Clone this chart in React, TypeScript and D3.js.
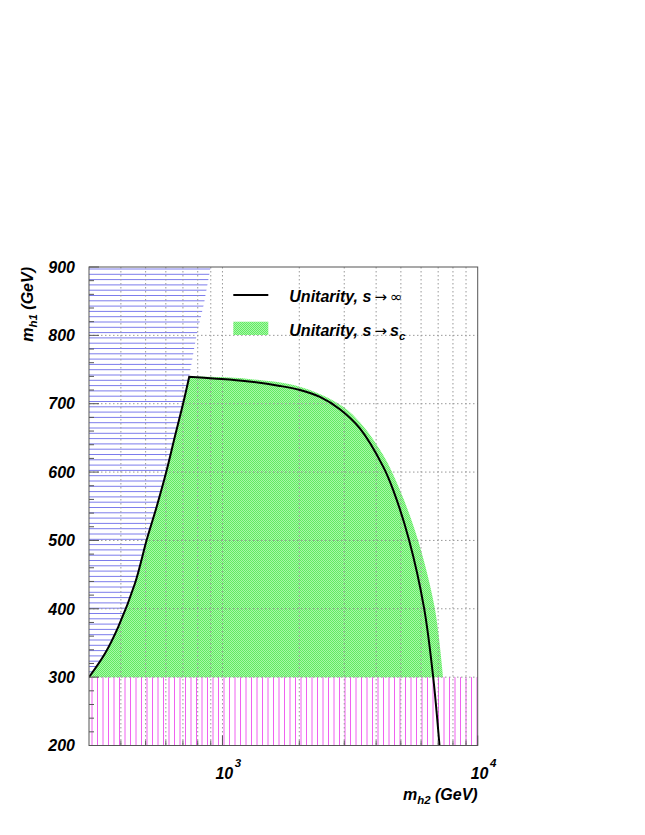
import React from "react";
import * as d3 from "d3";

// Left boundary (m_h2 ≈ m_h1)
const leftH2 = [300, 347, 391, 454, 505, 552, 605, 651, 702, 741];
const leftH1 = [300, 335, 374, 437, 501, 549, 603, 652, 701, 739.5];
// Unitarity s -> infinity (black curve, falling part)
const infH2 = [741, 920, 1244, 1679, 2011, 2408, 2883, 3454, 4262, 4663, 5380, 6165, 6688, 7083];
const infH1 = [739.5, 737, 733, 726, 720, 710, 692, 664, 608, 574, 501, 401, 301, 200];
// Unitarity s -> s_c (green region outer edge)
const scH2 = [741, 1244, 2011, 2883, 3454, 4262, 4953, 5830, 6790, 7317];
const scH1 = [740, 736.5, 725, 699, 673, 625, 574, 501, 401, 300];
// Excluded region m_h2 < m_h1 (blue), upper edge continues to 900
const blueH2 = [300, 347, 391, 454, 505, 552, 605, 651, 702, 741, 792, 850, 899];
const blueH1 = [300, 335, 374, 437, 501, 549, 603, 652, 701, 739.5, 800, 850, 900];
// Excluded band (magenta)
const magentaH1 = [200, 300];

const yTicks = [200, 300, 400, 500, 600, 700, 800, 900];
const xGrid = [400, 500, 600, 700, 800, 900, 1000, 2000, 3000, 4000, 5000, 6000, 7000, 8000, 9000];
const xMajor = [1000, 10000];
const xMajorExp = ["3", "4"];

const W = 645, H = 835;
const L = 89, R = 477.7, T = 267, B = 745.5;
const FONT = "'Liberation Sans', Arial, Helvetica, sans-serif";
const SYM = "'DejaVu Sans', sans-serif";

export default function App() {
  const x = d3.scaleLog().domain([300, 10000]).range([L, R]);
  const y = d3.scaleLinear().domain([200, 900]).range([B, T]);
  const smooth = d3.line<[number, number]>().x(d => x(d[0])).y(d => y(d[1])).curve(d3.curveCatmullRom.alpha(0.5));

  const leftPts: [number, number][] = leftH2.map((v, i) => [v, leftH1[i]]);
  const infPts: [number, number][] = infH2.map((v, i) => [v, infH1[i]]);
  const scPts: [number, number][] = scH2.map((v, i) => [v, scH1[i]]);
  const bluePts: [number, number][] = blueH2.map((v, i) => [v, blueH1[i]]);

  const greenPath =
    smooth(leftPts)! +
    smooth(scPts)!.replace(/^M/, "L") +
    "L" + x(leftH2[0]) + "," + y(300) + "Z";

  const bluePath = smooth(bluePts)! + "L" + x(300) + "," + y(900) + "Z";

  const blueLines = d3.range(T + 2, y(300), 5.3);
  const magLines = d3.range(L + 3, R, 5.5);

  const yMinor = d3.range(200, 901, 20);
  const xMinor = [400, 500, 600, 700, 800, 900, 2000, 3000, 4000, 5000, 6000, 7000, 8000, 9000];

  return (
    <svg width={W} height={H} style={{ position: "absolute", left: 0, top: 0, background: "#fff" }}>
      <defs>
        <pattern id="gp" patternUnits="userSpaceOnUse" x={0} y={0} width={2} height={2}>
          <rect x={0} y={0} width={2} height={2} fill="#a8f8a8" shapeRendering="crispEdges" />
          <rect x={0} y={0} width={1} height={1} fill="#62ea62" shapeRendering="crispEdges" />
          <rect x={1} y={1} width={1} height={1} fill="#62ea62" shapeRendering="crispEdges" />
        </pattern>
        <clipPath id="bc"><path d={bluePath} /></clipPath>
        <clipPath id="frame"><rect x={L} y={T} width={R - L} height={B - T} /></clipPath>
      </defs>

      <g clipPath="url(#frame)">
        <g clipPath="url(#bc)">
          {blueLines.map((yy, i) => (
            <line key={i} x1={L} x2={R} y1={yy} y2={yy} stroke="#7c7cec" strokeWidth={1} />
          ))}
        </g>
        {magLines.map((xx, i) => (
          <line key={i} x1={xx} x2={xx} y1={y(magentaH1[1])} y2={y(magentaH1[0])} stroke="#f060f0" strokeWidth={1} />
        ))}
        <path d={greenPath} fill="url(#gp)" />

        {xGrid.map((v, i) => (
          <line key={"gx" + i} x1={x(v)} x2={x(v)} y1={T} y2={B} stroke="#999" strokeWidth={1} strokeDasharray="1.5,2.5" />
        ))}
        {yTicks.slice(1, -1).map((v, i) => (
          <line key={"gy" + i} x1={L} x2={R} y1={y(v)} y2={y(v)} stroke="#999" strokeWidth={1} strokeDasharray="1.5,2.5" />
        ))}

        <path d={smooth(leftPts)! + smooth(infPts)!.replace(/^M/, "L")} fill="none" stroke="#000" strokeWidth={2} strokeLinejoin="miter" />
      </g>

      {yMinor.map((v, i) => (
        <line key={"ty" + i} x1={L} x2={L + (v % 100 === 0 ? 10 : 5)} y1={y(v)} y2={y(v)} stroke="#555" strokeWidth={1} />
      ))}
      {xMinor.map((v, i) => (
        <line key={"tx" + i} x1={x(v)} x2={x(v)} y1={B} y2={B - 5} stroke="#555" strokeWidth={1} />
      ))}
      {xMajor.map((v, i) => (
        <line key={"txm" + i} x1={x(v)} x2={x(v)} y1={B} y2={B - 10} stroke="#555" strokeWidth={1} />
      ))}

      <rect x={L} y={T} width={R - L} height={B - T} fill="none" stroke="#555" strokeWidth={1} />

      {yTicks.map(v => (
        <text key={"yl" + v} x={75} y={y(v)} dy="0.36em" textAnchor="end" fontFamily={FONT} fontWeight="bold" fontStyle="italic" fontSize={16}>{v}</text>
      ))}
      {xMajor.map((v, i) => (
        <text key={"xl" + v} x={x(v) - 7} y={778.5} fontFamily={FONT} fontWeight="bold" fontStyle="italic" fontSize={16}>
          10<tspan dx={1.5} dy={-12} fontSize={11.5}>{xMajorExp[i]}</tspan>
        </text>
      ))}

      <text x={R} y={800} textAnchor="end" fontFamily={FONT} fontWeight="bold" fontStyle="italic" fontSize={16}>
        m<tspan dy={4} fontSize={11.5}>h2</tspan><tspan dy={-4}> (GeV)</tspan>
      </text>
      <text transform={`translate(33,${T}) rotate(-90)`} textAnchor="end" fontFamily={FONT} fontWeight="bold" fontStyle="italic" fontSize={16}>
        m<tspan dy={4} fontSize={11.5}>h1</tspan><tspan dy={-4}> (GeV)</tspan>
      </text>

      <line x1={233.3} x2={268.3} y1={295} y2={295} stroke="#000" strokeWidth={2} />
      <text x={289.3} y={301.5} fontFamily={FONT} fontWeight="bold" fontStyle="italic" fontSize={16}>
        Unitarity, s<tspan fontFamily={SYM} fontWeight="normal" fontStyle="normal" fontSize={15} dx={3}>→</tspan><tspan fontFamily={SYM} fontWeight="normal" fontStyle="normal" fontSize={15} dx={3}>∞</tspan>
      </text>
      <rect x={233.3} y={321.7} width={35} height={13.3} fill="url(#gp)" />
      <text x={289.3} y={336} fontFamily={FONT} fontWeight="bold" fontStyle="italic" fontSize={16}>
        Unitarity, s<tspan fontFamily={SYM} fontWeight="normal" fontStyle="normal" fontSize={15} dx={3}>→</tspan><tspan dx={3}>s</tspan><tspan dy={4} fontSize={11.5}>c</tspan>
      </text>
    </svg>
  );
}
